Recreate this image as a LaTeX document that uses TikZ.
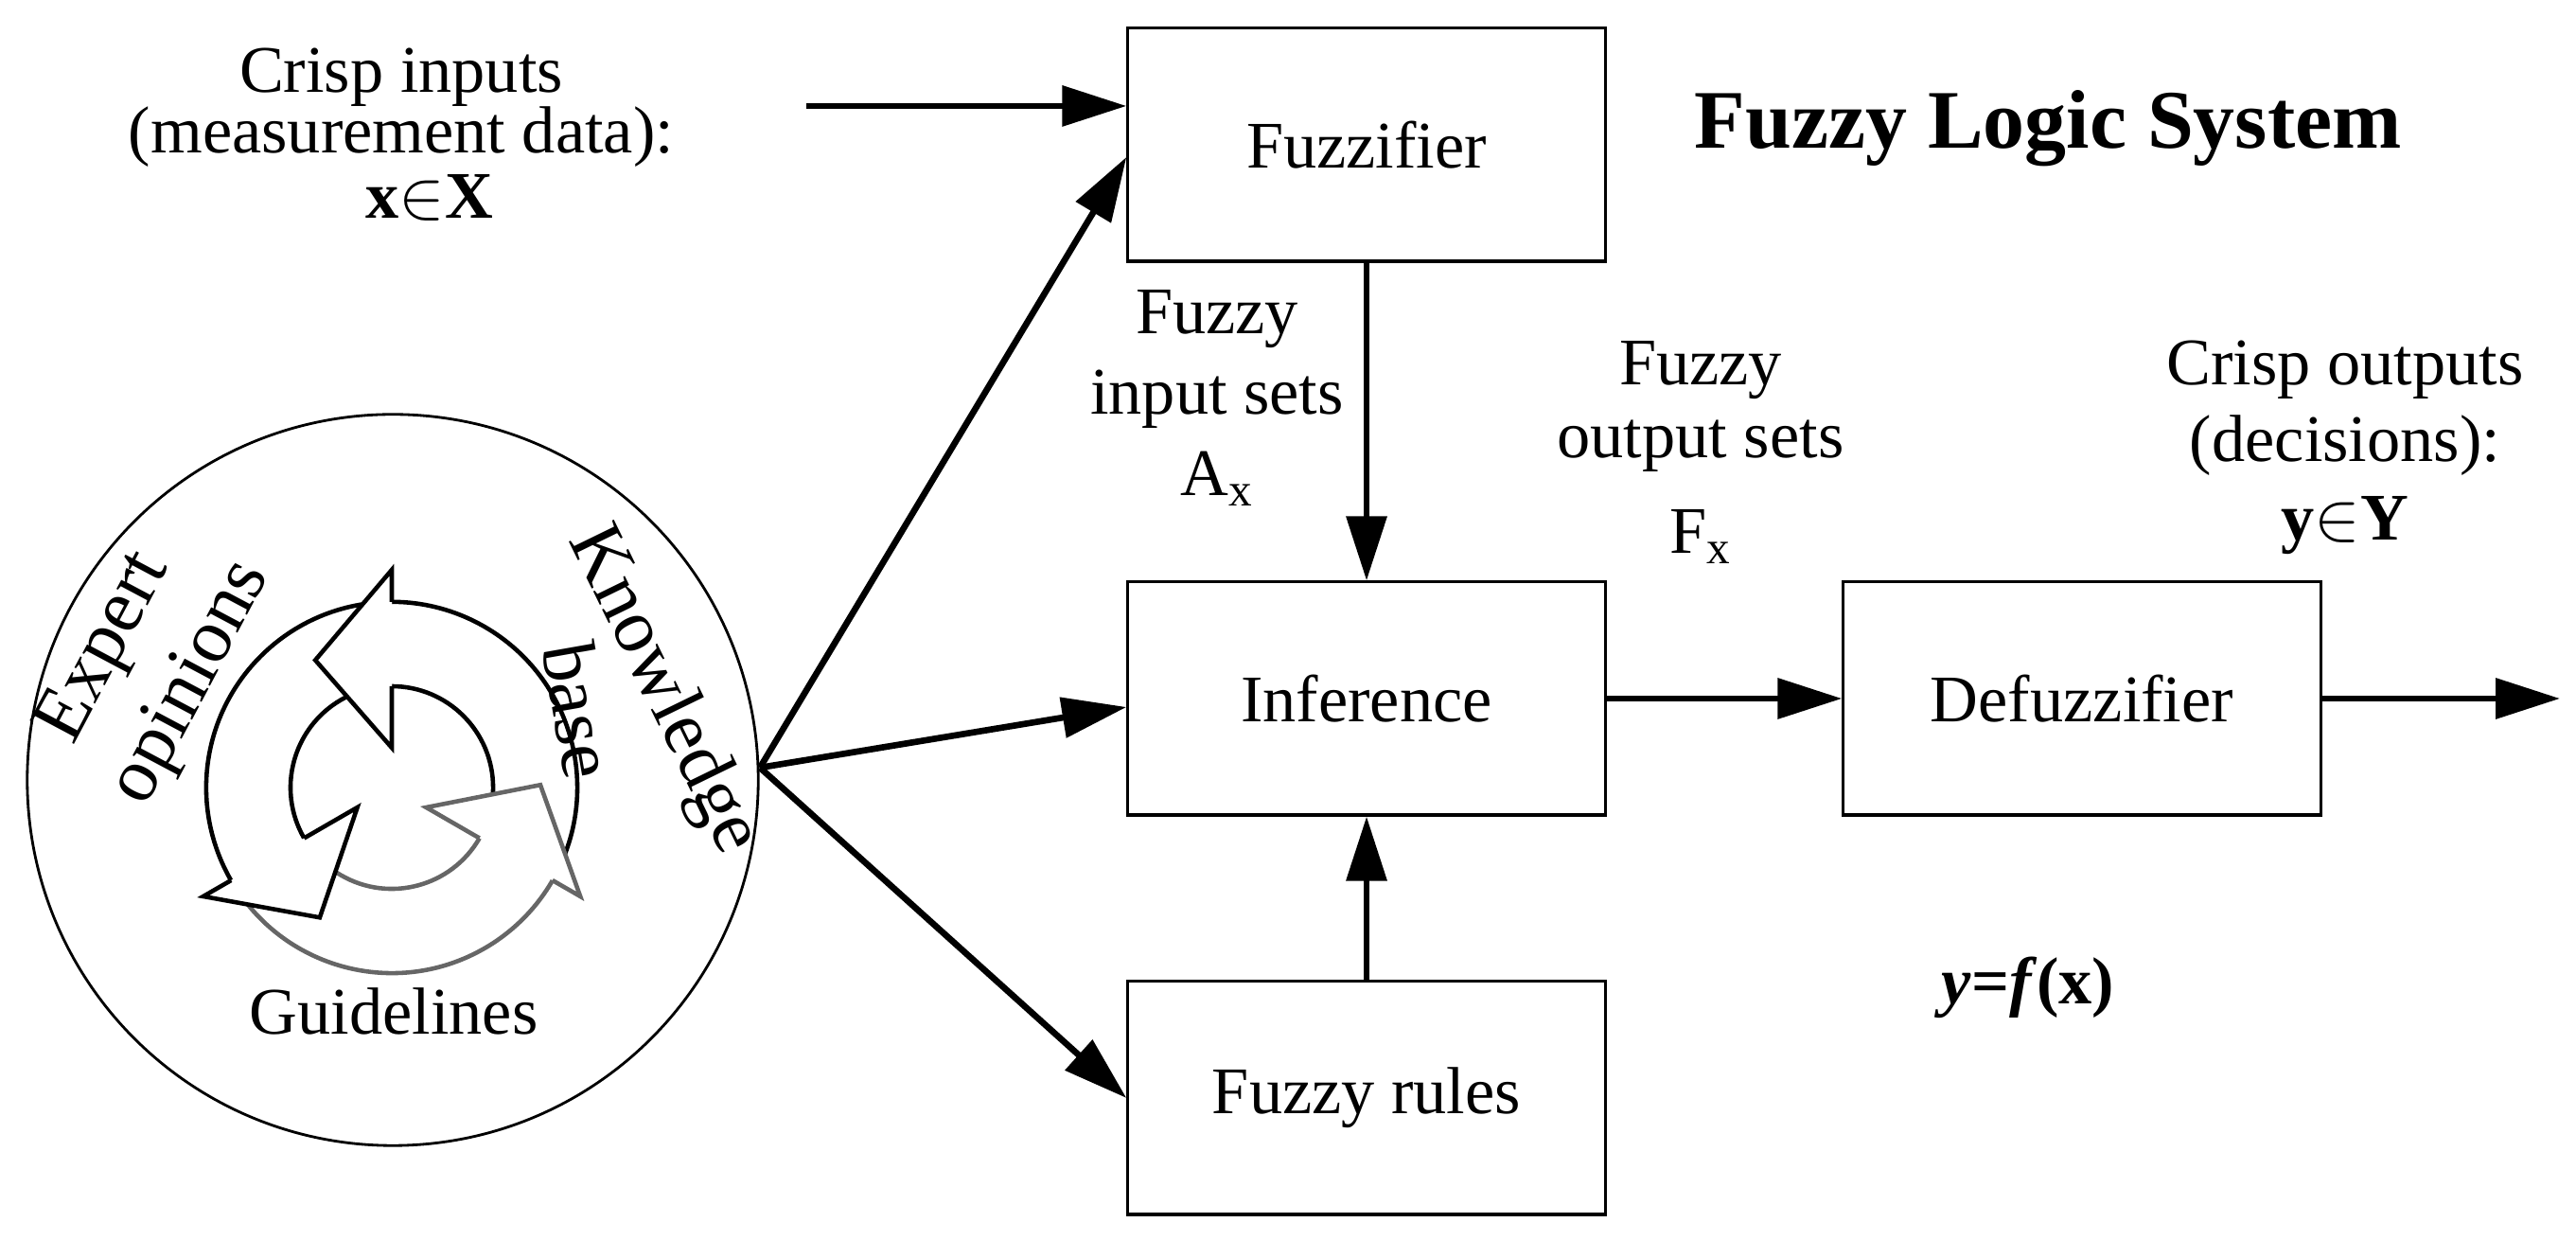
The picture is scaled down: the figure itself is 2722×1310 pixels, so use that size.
\documentclass[tikz,border=0pt]{standalone}
\usepackage{fontspec}
\setmainfont{Liberation Serif}
\usetikzlibrary{arrows.meta}
\begin{document}
\begin{tikzpicture}[x=0.01cm,y=0.01cm,
  box/.style={draw,line width=0.9pt,minimum width=5.04cm,minimum height=2.46cm,font=\fontsize{20}{24}\selectfont},
  lbl/.style={font=\fontsize{20}{24}\selectfont,align=center},
  rlbl/.style={font=\fontsize{23}{26}\selectfont},
  arr/.style={line width=1.9pt,-{Triangle[length=0.68cm,width=0.42cm]}},
  cyc/.style={line width=1.3pt,line join=miter}]
\useasboundingbox (0,0) rectangle (2722,1310);
\node[box] (fz) at (1444,1157) {Fuzzifier};
\node[box] (inf) at (1444,572) {Inference};
\node[box] (fr) at (1444,150) {Fuzzy rules};
\node[box] (df) at (2200,572) {Defuzzifier};
\node[draw,circle,line width=0.8pt,minimum size=7.72cm] (kb) at (415,486) {};
\coordinate (in) at (852,1198);
\coordinate (fan) at (803,499);
\coordinate (out) at (2705,572);
\draw[arr] (in) -- (fz.west |- in);
\draw[arr] (fan) -- ([yshift=-0.13cm]fz.west);
\draw[arr] (fan) -- ([yshift=-0.09cm]inf.west);
\draw[arr] (fan) -- (fr.west);
\draw[arr] (fz.south) -- (inf.north);
\draw[arr] (fr.north) -- (inf.south);
\draw[arr] (inf.east) -- (df.west);
\draw[arr] (df.east) -- (out);
\node[lbl] (t1) at (424,1228) {Crisp inputs};
\node[lbl] (t2) at (424,1165) {(measurement data):};
\node[lbl] (t3) at (454,1101) {$\mathbf{x}{\in}\mathbf{X}$};
\node[font=\fontsize{25}{30}\selectfont\bfseries] (title) at (2164,1174) {Fuzzy Logic System};
\node[lbl] (a1) at (1286,973) {Fuzzy};
\node[lbl] (a2) at (1286,888) {input sets};
\node[lbl] (a3) at (1286,804) {A\textsubscript{x}};
\node[lbl] (b1) at (1797,919) {Fuzzy};
\node[lbl] (b2) at (1797,839) {output sets};
\node[lbl] (b3) at (1797,743) {F\textsubscript{x}};
\node[lbl] (c1) at (2478,919) {Crisp outputs};
\node[lbl] (c2) at (2478,839) {(decisions):};
\node[lbl] (c3) at (2478,755) {$\mathbf{y}{\in}\mathbf{Y}$};
\node[lbl] (yf) at (2143,267) {\textbf{\textit{y}=\textit{f}(x)}};
\begin{scope}[shift={(414,478)}]
\foreach \t/\c in {330/black!60,90/black,210/black}{
  \pgfmathsetmacro{\a}{\t-120}
  \pgfmathsetmacro{\ox}{196*cos(\a)}\pgfmathsetmacro{\oy}{196*sin(\a)}
  \pgfmathsetmacro{\dx}{107*cos(\t)}\pgfmathsetmacro{\dy}{107*sin(\t)}
  \fill[white] (\ox,\oy) arc[start angle=\a,end angle=\t,radius=1.96cm]
    -- (\dx,\dy) arc[start angle=\t,end angle=\a,radius=1.07cm] -- cycle;
  \draw[cyc,draw=\c] (\ox,\oy) arc[start angle=\a,end angle=\t,radius=1.96cm];
  \draw[cyc,draw=\c] (\dx,\dy) arc[start angle=\t,end angle=\a,radius=1.07cm];
}
\foreach \t/\c in {330/black!60,90/black,210/black}{
  \pgfmathsetmacro{\ex}{196*cos(\t)}\pgfmathsetmacro{\ey}{196*sin(\t)}
  \pgfmathsetmacro{\bx}{230*cos(\t)}\pgfmathsetmacro{\by}{230*sin(\t)}
  \pgfmathsetmacro{\px}{157*cos(\t+31)}\pgfmathsetmacro{\py}{157*sin(\t+31)}
  \pgfmathsetmacro{\cx}{42*cos(\t)}\pgfmathsetmacro{\cy}{42*sin(\t)}
  \pgfmathsetmacro{\dx}{107*cos(\t)}\pgfmathsetmacro{\dy}{107*sin(\t)}
  \fill[white] (\bx,\by) -- (\px,\py) -- (\cx,\cy) -- cycle;
  \draw[cyc,draw=\c] (\ex,\ey) -- (\bx,\by) -- (\px,\py) -- (\cx,\cy) -- (\dx,\dy);
}
\end{scope}
\node[rlbl,rotate=62] (e1) at (112,625) {Expert};
\node[rlbl,rotate=62] (e2) at (203,588) {opinions};
\node[rlbl,rotate=-64] (k1) at (700,580) {Knowledge};
\node[rlbl,rotate=-80] (k2) at (612,560) {base};
\node[lbl] (g) at (416,242) {Guidelines};
\end{tikzpicture}
\end{document}
